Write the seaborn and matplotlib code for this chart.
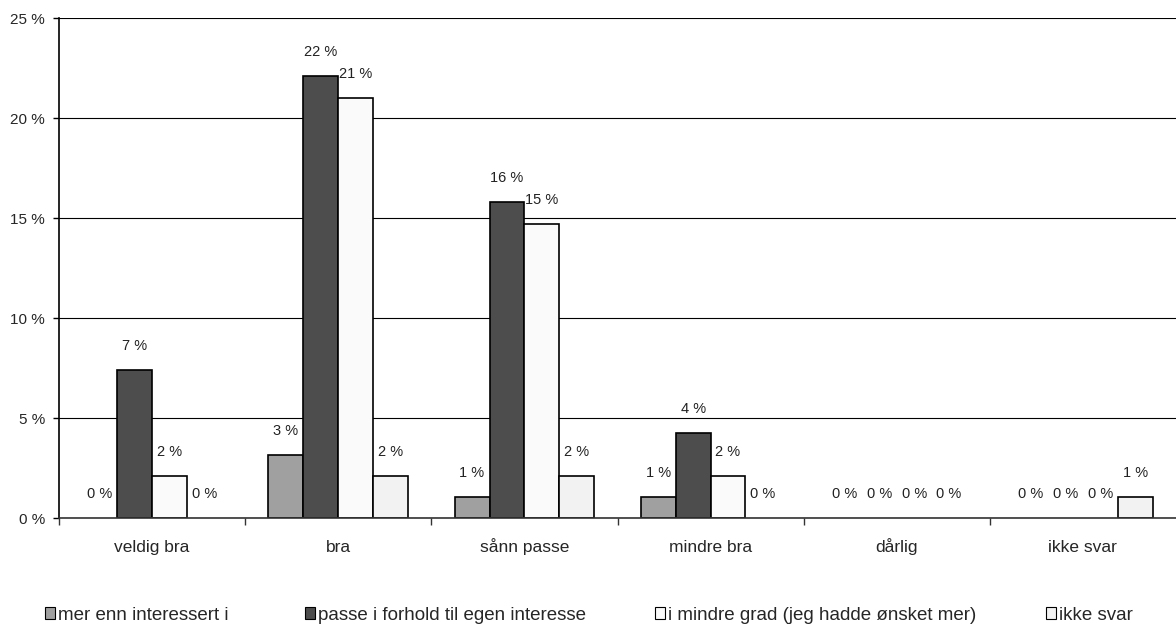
import numpy as np
import pandas as pd
import matplotlib
matplotlib.use('Agg')
import matplotlib.pyplot as plt
from matplotlib.patches import Patch
import seaborn as sns

# Data (percent)
kategorier = ['veldig bra', 'bra', 'sånn passe', 'mindre bra', 'dårlig', 'ikke svar']
serier = ['mer enn interessert i',
          'passe i forhold til egen interesse',
          'i mindre grad (jeg hadde ønsket mer)',
          'ikke svar']
mer_enn = [0.0, 3.15, 1.05, 1.05, 0.0, 0.0]
passe = [7.4, 22.1, 15.8, 4.25, 0.0, 0.0]
mindre_grad = [2.1, 21.0, 14.7, 2.1, 0.0, 0.0]
ikke_svar = [0.0, 2.1, 2.1, 0.0, 0.0, 1.05]
farger = ['#a0a0a0', '#4d4d4d', '#fafafa', '#f2f2f2']
yticks = [0, 5, 10, 15, 20, 25]

verdier = [mer_enn, passe, mindre_grad, ikke_svar]
df = pd.DataFrame({
    'kategori': np.tile(kategorier, len(serier)),
    'serie': np.repeat(serier, len(kategorier)),
    'verdi': np.concatenate(verdier),
})

sns.set_style('white')
plt.rcParams['font.family'] = ['Liberation Sans', 'DejaVu Sans']

fig = plt.figure(figsize=(11.76, 6.28), dpi=100)
ax = fig.add_axes([59 / 1176, 1 - 518 / 628, 1 - 59 / 1176, 500 / 628])

sns.barplot(data=df, x='kategori', y='verdi', hue='serie', order=kategorier,
            hue_order=serier, palette=farger, width=0.75, edgecolor='black',
            linewidth=1.2, saturation=1, legend=False, ax=ax)

# bar labels
for cont, vals in zip(ax.containers, verdier):
    for bar, v in zip(cont, vals):
        if v == 0:
            bar.set_linewidth(0)
        ax.annotate(f'{int(round(v))} %',
                    (bar.get_x() + bar.get_width() / 2, bar.get_height()),
                    xytext=(0, 20), textcoords='offset pixels',
                    ha='center', va='baseline', fontsize=10.5,
                    color='#222222')

ax.set_ylim(0, 25)
ax.set_xlim(-0.5, 5.5)
ax.set_yticks(yticks)
ax.set_yticklabels([f'{v} %' for v in yticks], fontsize=11)
ax.yaxis.grid(True, color='black', linewidth=0.8)
ax.set_axisbelow(True)

ax.set_xticks(range(len(kategorier)))
ax.set_xticklabels(kategorier, fontsize=12.5, va='baseline')
ax.set_xticks(np.arange(-0.5, 5.0, 1.0), minor=True)
ax.tick_params(axis='x', which='major', length=0, pad=24.5)
ax.tick_params(axis='x', which='minor', bottom=True, length=5, width=1,
               color='#333333', direction='out')
ax.tick_params(axis='y', length=4, width=1, color='black', direction='out',
               pad=6, left=True)
ax.set_xlabel('')
ax.set_ylabel('')

for s in ['top', 'right']:
    ax.spines[s].set_visible(False)
ax.spines['left'].set_color('black')
ax.spines['bottom'].set_color('#333333')
ax.spines['left'].set_linewidth(1.2)
ax.spines['bottom'].set_linewidth(1.2)

# legend: one entry per block, placed like the original
leg_x = [45, 305, 655, 1046]
for navn, farge, x in zip(serier, farger, leg_x):
    handle = Patch(facecolor=farge, edgecolor='black', linewidth=0.8)
    fig.legend([handle], [navn], loc='center left',
               bbox_to_anchor=(x / 1176, 1 - 615 / 628), frameon=False,
               fontsize=13.5, handlelength=0.55, handleheight=0.55,
               handletextpad=0.15, borderpad=0, borderaxespad=0)

fig.savefig('out.png', dpi=100)
